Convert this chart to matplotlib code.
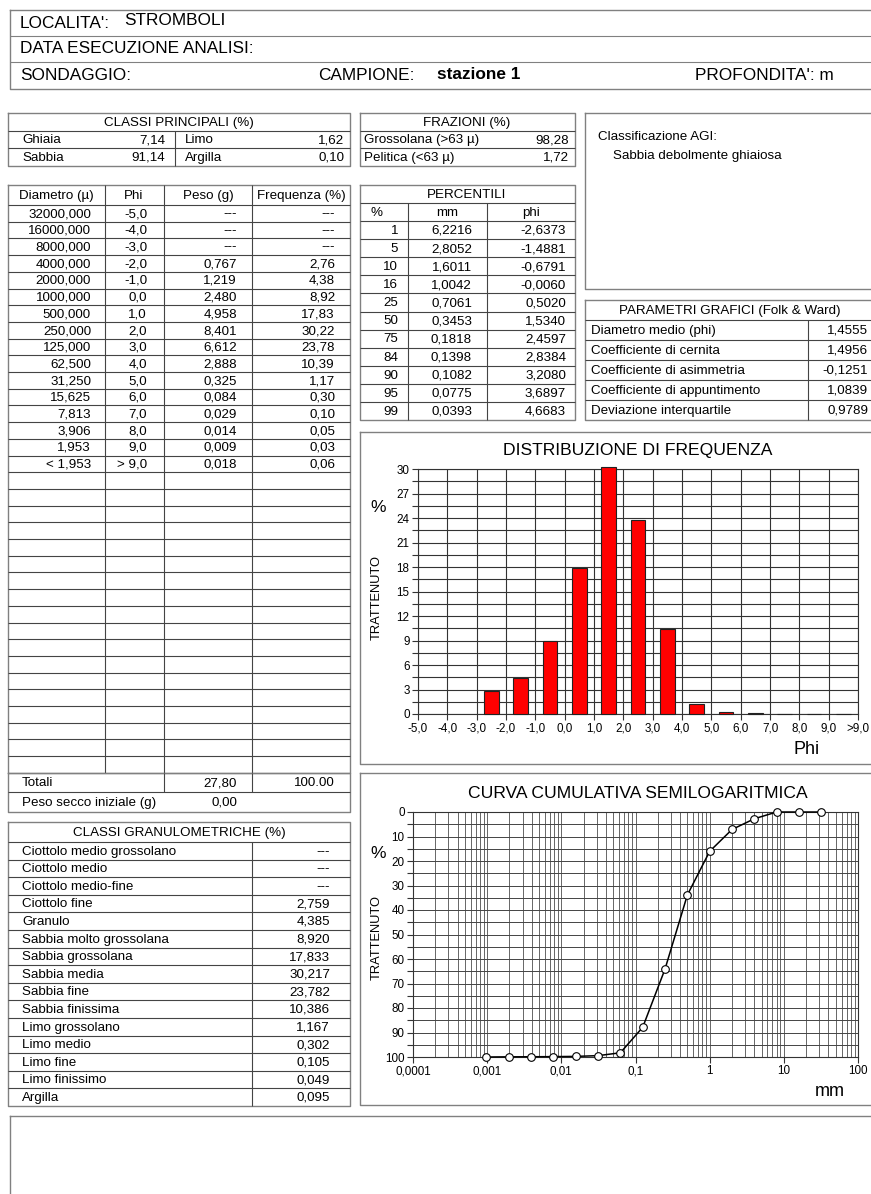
import matplotlib
matplotlib.use("Agg")
import matplotlib.pyplot as plt
from matplotlib.ticker import FixedLocator, NullFormatter

plt.rcParams['font.family'] = ['Liberation Sans', 'DejaVu Sans']

# ---------------- data ----------------
localita = "STROMBOLI"
campione = "stazione 1"

main_class_names = ["Ghiaia", "Sabbia", "Limo", "Argilla"]
main_class_vals = [7.14, 91.14, 1.62, 0.10]
fraz_names = ["Grossolana (>63 \u00b5)", "Pelitica (<63 \u00b5)"]
fraz_vals = [98.28, 1.72]
agi_class = "Sabbia debolmente ghiaiosa"

diam_labels = ["32000,000", "16000,000", "8000,000", "4000,000", "2000,000",
               "1000,000", "500,000", "250,000", "125,000", "62,500", "31,250",
               "15,625", "7,813", "3,906", "1,953", "< 1,953"]
phi_table = ["-5,0", "-4,0", "-3,0", "-2,0", "-1,0", "0,0", "1,0", "2,0", "3,0",
             "4,0", "5,0", "6,0", "7,0", "8,0", "9,0", "> 9,0"]
peso = [None, None, None, 0.767, 1.219, 2.480, 4.958, 8.401, 6.612, 2.888,
        0.325, 0.084, 0.029, 0.014, 0.009, 0.018]
freq = [None, None, None, 2.76, 4.38, 8.92, 17.83, 30.22, 23.78, 10.39,
        1.17, 0.30, 0.10, 0.05, 0.03, 0.06]
totale_peso = "27,80"
totale_freq = "100.00"
peso_secco = "0,00"

pct = [1, 5, 10, 16, 25, 50, 75, 84, 90, 95, 99]
pct_mm = [6.2216, 2.8052, 1.6011, 1.0042, 0.7061, 0.3453, 0.1818, 0.1398,
          0.1082, 0.0775, 0.0393]
pct_phi = [-2.6373, -1.4881, -0.6791, -0.0060, 0.5020, 1.5340, 2.4597,
           2.8384, 3.2080, 3.6897, 4.6683]

param_names = ["Diametro medio (phi)", "Coefficiente di cernita",
               "Coefficiente di asimmetria", "Coefficiente di appuntimento",
               "Deviazione interquartile"]
param_vals = [1.4555, 1.4956, -0.1251, 1.0839, 0.9789]

gran_names = ["Ciottolo medio grossolano", "Ciottolo medio", "Ciottolo medio-fine",
              "Ciottolo fine", "Granulo", "Sabbia molto grossolana",
              "Sabbia grossolana", "Sabbia media", "Sabbia fine",
              "Sabbia finissima", "Limo grossolano", "Limo medio", "Limo fine",
              "Limo finissimo", "Argilla"]
gran_vals = [None, None, None, 2.759, 4.385, 8.920, 17.833, 30.217, 23.782,
             10.386, 1.167, 0.302, 0.105, 0.049, 0.095]

chart_phi_ticks = ["-5,0", "-4,0", "-3,0", "-2,0", "-1,0", "0,0", "1,0", "2,0",
                   "3,0", "4,0", "5,0", "6,0", "7,0", "8,0", "9,0", ">9,0"]

cum_mm = [32, 16, 8, 4, 2, 1, 0.5, 0.25, 0.125, 0.0625, 0.03125, 0.015625,
          0.0078125, 0.00390625, 0.001953, 0.000977]
cum_ret = [0, 0, 0, 2.76, 7.14, 16.06, 33.89, 64.11, 87.89, 98.28, 99.45,
           99.75, 99.85, 99.90, 99.93, 100.0]
cum_xticks = [0.0001, 0.001, 0.01, 0.1, 1, 10, 100]
cum_xlabels = ["0,0001", "0,001", "0,01", "0,1", "1", "10", "100"]


def fmt(v, n):
    return "---" if v is None else f"{v:.{n}f}".replace(".", ",")


# ---------------- page ----------------
W, H = 871, 1194
fig = plt.figure(figsize=(W / 100, H / 100), dpi=100)
bg = fig.add_axes([0, 0, 1, 1])
bg.set_xlim(0, W)
bg.set_ylim(H, 0)
bg.axis("off")

LC = "#444444"
OC = "#808080"
TS = 9.6


def hl(x0, x1, y, c=LC, lw=0.8):
    bg.plot([x0, x1], [y, y], color=c, lw=lw, solid_capstyle="butt")


def vl(x, y0, y1, c=LC, lw=0.8):
    bg.plot([x, x], [y0, y1], color=c, lw=lw, solid_capstyle="butt")


def box(x0, y0, x1, y1, c=OC, lw=1.0):
    bg.plot([x0, x1, x1, x0, x0], [y0, y0, y1, y1, y0], color=c, lw=lw)


def tx(x, y, s, ha="left", size=TS, **kw):
    bg.text(x, y + 0.8, s, ha=ha, va="center", fontsize=size, **kw)


# header
box(10, 10, 890, 89)
hl(10, 890, 36, OC)
hl(10, 890, 62, OC)
HS = 12.4
tx(20, 23, "LOCALITA':", size=HS)
tx(124, 20, localita, size=HS)
tx(20, 48, "DATA ESECUZIONE ANALISI:", size=HS)
tx(20, 75, "SONDAGGIO:", size=HS)
tx(318, 75, "CAMPIONE:", size=HS)
tx(437, 74, campione, size=HS, fontweight="bold")
tx(695, 75, "PROFONDITA': m", size=HS)

# classi principali
box(8, 113, 350, 166)
hl(8, 350, 131)
hl(8, 350, 148)
vl(175, 131, 166)
tx(179, 122, "CLASSI PRINCIPALI (%)", ha="center")
for i in range(2):
    y = 139.5 + 17.5 * i
    tx(22, y, main_class_names[i])
    tx(165, y, fmt(main_class_vals[i], 2), ha="right")
    tx(185, y, main_class_names[i + 2])
    tx(344, y, fmt(main_class_vals[i + 2], 2), ha="right")

# frazioni
box(360, 113, 575, 166)
hl(360, 575, 131)
hl(360, 575, 148)
tx(467, 122, "FRAZIONI (%)", ha="center")
for i in range(2):
    y = 139.5 + 17.5 * i
    tx(364, y, fraz_names[i])
    tx(569, y, fmt(fraz_vals[i], 2), ha="right")

# AGI
box(585, 113, 890, 289)
tx(598, 136, "Classificazione AGI:")
tx(613, 155, agi_class)

# main table
cols = [8, 105, 164, 252, 350]
top, hdr = 185, 205
rh = 16.7
n_blank = 18
bottom = hdr + rh * (len(diam_labels) + n_blank)
box(8, top, 350, bottom)
hl(8, 350, hdr)
for c in cols[1:-1]:
    vl(c, top, bottom)
for k in range(1, len(diam_labels) + n_blank):
    hl(8, 350, hdr + rh * k)
hy = (top + hdr) / 2
tx(56, hy, "Diametro (\u00b5)", ha="center")
tx(134, hy, "Phi", ha="center")
tx(208, hy, "Peso (g)", ha="center")
tx(301, hy, "Frequenza (%)", ha="center")
for k in range(len(diam_labels)):
    y = hdr + rh * (k + 0.5)
    tx(91, y, diam_labels[k], ha="right")
    tx(147, y, phi_table[k], ha="right")
    tx(237, y, fmt(peso[k], 3), ha="right")
    tx(335, y, fmt(freq[k], 2), ha="right")

# totals
t0 = bottom
box(8, t0, 350, t0 + 39)
hl(8, 350, t0 + 19.5)
vl(164, t0, t0 + 19.5)
vl(252, t0, t0 + 19.5)
tx(22, t0 + 9.75, "Totali")
tx(237, t0 + 9.75, totale_peso, ha="right")
tx(335, t0 + 9.75, totale_freq, ha="right")
tx(22, t0 + 29.25, "Peso secco iniziale (g)")
tx(237, t0 + 29.25, peso_secco, ha="right")

# classi granulometriche
g0, gh = 822, 842
grh = 17.6
gb = gh + grh * len(gran_names)
box(8, g0, 350, gb)
hl(8, 350, gh)
vl(252, gh, gb)
for k in range(1, len(gran_names)):
    hl(8, 350, gh + grh * k)
tx(179, (g0 + gh) / 2, "CLASSI GRANULOMETRICHE (%)", ha="center")
for k in range(len(gran_names)):
    y = gh + grh * (k + 0.5)
    tx(22, y, gran_names[k])
    tx(330, y, fmt(gran_vals[k], 3), ha="right")

# percentili
p_top = 185
prh = (420 - 185) / 13
box(360, p_top, 575, 420)
for k in range(1, 13):
    hl(360, 575, p_top + prh * k)
vl(408, p_top + prh, 420)
vl(487, p_top + prh, 420)
tx(467, p_top + prh * 0.5, "PERCENTILI", ha="center")
tx(370, p_top + prh * 1.5, "%")
tx(447, p_top + prh * 1.5, "mm", ha="center")
tx(531, p_top + prh * 1.5, "phi", ha="center")
for k in range(len(pct)):
    y = p_top + prh * (k + 2.5)
    tx(398, y, str(pct[k]), ha="right")
    tx(472, y, fmt(pct_mm[k], 4), ha="right")
    tx(566, y, fmt(pct_phi[k], 4), ha="right")

# parametri grafici
q_top = 300
qrh = 20
box(585, q_top, 890, q_top + qrh * 6)
for k in range(1, 6):
    hl(585, 890, q_top + qrh * k)
vl(808, q_top + qrh, q_top + qrh * 6)
tx(730, q_top + qrh * 0.5, "PARAMETRI GRAFICI (Folk & Ward)", ha="center")
for k in range(len(param_names)):
    y = q_top + qrh * (k + 1.5)
    tx(591, y, param_names[k])
    tx(868, y, fmt(param_vals[k], 4), ha="right")

# chart frames
box(360, 432, 890, 764)
box(360, 773, 890, 1105)
box(10, 1116, 890, 1210)


def fig_rect(x0, y0, x1, y1):
    return [x0 / W, 1 - y1 / H, (x1 - x0) / W, (y1 - y0) / H]


# ---------------- frequency chart ----------------
axf = fig.add_axes(fig_rect(418, 469, 858, 714))
nb = len(chart_phi_ticks)
xs = [k - 0.5 for k in range(nb) if freq[k] is not None]
hs = [freq[k] for k in range(nb) if freq[k] is not None]
axf.set_xlim(0, nb - 1)
axf.set_ylim(0, 30)
axf.yaxis.set_major_locator(FixedLocator([3 * i for i in range(11)]))
axf.yaxis.set_minor_locator(FixedLocator([1.5 * i for i in range(21)]))
axf.xaxis.set_major_locator(FixedLocator(list(range(nb))))
axf.set_xticklabels(chart_phi_ticks)
axf.grid(True, which="both", axis="y", color="#333333", lw=0.8)
axf.grid(True, which="major", axis="x", color="#333333", lw=0.8)
axf.set_axisbelow(True)
axf.bar(xs, hs, width=0.5, color="#ff0000", edgecolor="#222222", lw=0.8,
        clip_on=False, zorder=3)
for s in axf.spines.values():
    s.set_color("#333333")
    s.set_linewidth(0.8)
axf.tick_params(axis="both", which="both", length=4, width=0.8, color="#333333",
                labelsize=8.4, pad=2)
bg.text(638, 450, "DISTRIBUZIONE DI FREQUENZA", ha="center", va="center",
        fontsize=12.6)
bg.text(378, 508, "%", ha="center", va="center", fontsize=12.5)
bg.text(377, 597, "TRATTENUTO", ha="center", va="center", rotation=90,
        fontsize=9.3)
bg.text(807, 749, "Phi", ha="center", va="center", fontsize=13)

# ---------------- cumulative chart ----------------
axc = fig.add_axes(fig_rect(413, 812, 858, 1057))
axc.set_xscale("log")
axc.set_xlim(1e-4, 1e2)
axc.set_ylim(100, 0)
axc.xaxis.set_major_locator(FixedLocator(cum_xticks))
axc.set_xticklabels(cum_xlabels)
minors = [m * 10.0 ** e for e in range(-4, 2) for m in range(2, 10)]
axc.xaxis.set_minor_locator(FixedLocator(minors))
axc.xaxis.set_minor_formatter(NullFormatter())
axc.yaxis.set_major_locator(FixedLocator([10 * i for i in range(11)]))
axc.yaxis.set_minor_locator(FixedLocator([5 * i for i in range(21)]))
axc.grid(True, which="both", axis="y", color="#444444", lw=0.7)
axc.grid(True, which="both", axis="x", color="#666666", lw=0.7)
axc.set_axisbelow(True)
axc.plot(cum_mm, cum_ret, color="black", lw=1.1, marker="o", ms=5.5,
         mfc="white", mec="black", mew=0.8, clip_on=False, zorder=3)
for s in axc.spines.values():
    s.set_color("#333333")
    s.set_linewidth(0.8)
axc.tick_params(axis="both", which="both", length=4, width=0.8, color="#333333",
                labelsize=8.4, pad=2)
axc.tick_params(axis="x", which="minor", length=0)
bg.text(638, 793, "CURVA CUMULATIVA SEMILOGARITMICA", ha="center", va="center",
        fontsize=12.6)
bg.text(378, 853, "%", ha="center", va="center", fontsize=12.5)
bg.text(377, 938, "TRATTENUTO", ha="center", va="center", rotation=90,
        fontsize=9.3)
bg.text(830, 1092, "mm", ha="center", va="center", fontsize=13)

fig.savefig("out.png", dpi=100)
